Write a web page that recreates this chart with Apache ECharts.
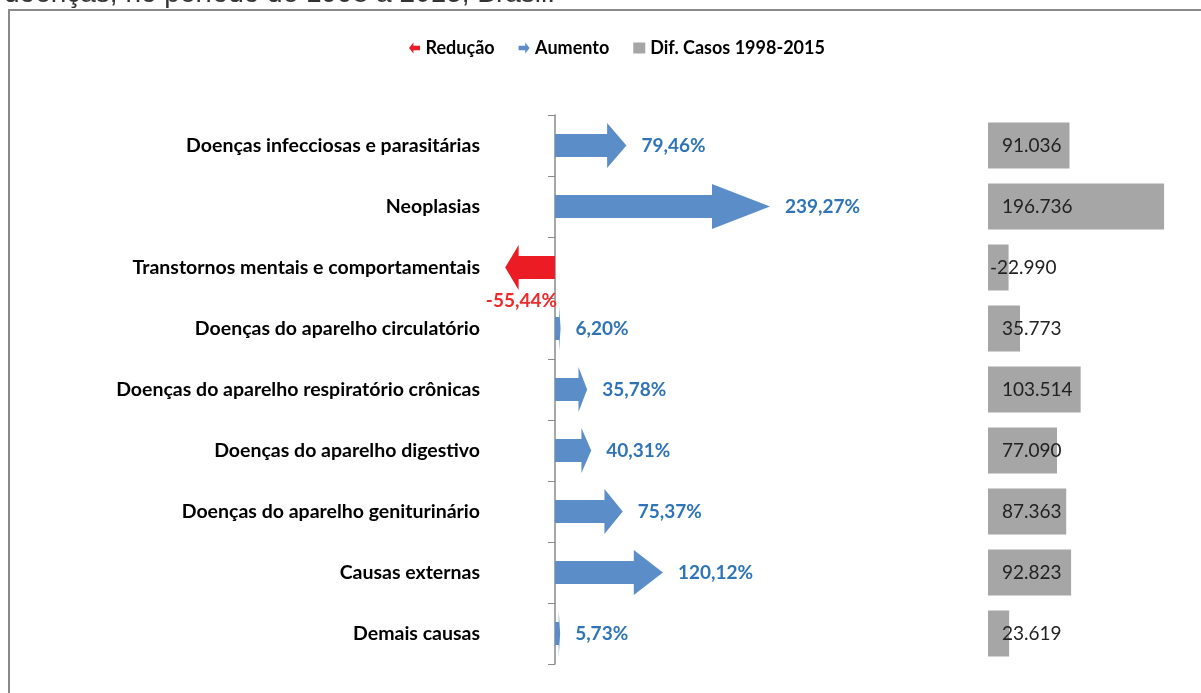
<!DOCTYPE html>
<html>
<head>
<meta charset="utf-8">
<script src="https://cdn.jsdelivr.net/npm/echarts@6/dist/echarts.min.js"></script>
<style>
  html, body { margin: 0; padding: 0; background: #fff; }
  #chart { width: 1201px; height: 693px; }
</style>
</head>
<body>
<div id="chart"></div>
<script>
// dados
const categorias = [
  'Doenças infecciosas e parasitárias',
  'Neoplasias',
  'Transtornos mentais e comportamentais',
  'Doenças do aparelho circulatório',
  'Doenças do aparelho respiratório crônicas',
  'Doenças do aparelho digestivo',
  'Doenças do aparelho geniturinário',
  'Causas externas',
  'Demais causas'
];
const variacao = [79.46, 239.27, -55.44, 6.20, 35.78, 40.31, 75.37, 120.12, 5.73];
const difCasos = [91036, 196736, -22990, 35773, 103514, 77090, 87363, 92823, 23619];

const azul = '#5b8dc9';
const azulTexto = '#2f74b7';
const vermelho = '#ec1c24';
const vermelhoTexto = '#ee2b2b';

function fmtPct(v) {
  return v.toFixed(2).replace('.', ',') + '%';
}
function fmtNum(v) {
  const s = String(Math.abs(v)).replace(/\B(?=(\d{3})+(?!\d))/g, '.');
  return (v < 0 ? '-' : '') + s;
}

function desenhaSeta(params, api) {
  const idx = api.value(1);
  const v = api.value(0);
  const base = api.coord([0, idx]);
  const tip = api.coord([v, idx]);
  const cy = base[1];
  const len = tip[0] - base[0];
  const neck = tip[0] - len * 0.27;
  const hs = 11.5, hh = 22.5;
  const pts = [
    [base[0], cy - hs], [neck, cy - hs], [neck, cy - hh], [tip[0], cy],
    [neck, cy + hh], [neck, cy + hs], [base[0], cy + hs]
  ];
  const neg = v < 0;
  return {
    type: 'group',
    children: [
      { type: 'polygon', shape: { points: pts }, style: { fill: neg ? vermelho : azul } },
      {
        type: 'text',
        x: neg ? base[0] + 2 : tip[0] + 15,
        y: neg ? cy + 33 : cy,
        style: {
          text: fmtPct(v),
          fill: neg ? vermelhoTexto : azulTexto,
          font: 'bold 19px Lato',
          align: neg ? 'right' : 'left',
          verticalAlign: 'middle'
        }
      }
    ]
  };
}

const reducao = [], aumento = [];
variacao.forEach((v, i) => (v < 0 ? reducao : aumento).push([v, i]));

const chart = echarts.init(document.getElementById('chart'));
const option = {
  animation: false,
  graphic: [
    {
      type: 'text', left: 4, top: -20,
      style: { text: 'doenças, no período de 1998 a 2015, Brasil.', font: '28px "Liberation Sans"', fill: '#333' }
    },
    {
      type: 'rect', shape: { x: 9, y: 10, width: 1400, height: 900 },
      style: { fill: 'none', stroke: '#8a8a8a', lineWidth: 2 }, silent: true
    }
  ],
  legend: {
    left: 404, top: 34,
    itemWidth: 12, itemHeight: 11, itemGap: 24,
    textStyle: { fontFamily: 'Lato', fontWeight: 'bold', fontSize: 18, color: '#000' },
    data: [
      { name: 'Redução', icon: 'path://M0,5 L4,0 L4,3 L10,3 L10,7 L4,7 L4,10 Z', itemStyle: { color: vermelho } },
      { name: 'Aumento', icon: 'path://M0,3 L6,3 L6,0 L10,5 L6,10 L6,7 L0,7 Z', itemStyle: { color: azul } },
      { name: 'Dif. Casos 1998-2015', icon: 'rect', itemStyle: { color: '#a6a6a6' } }
    ]
  },
  grid: [
    { left: 555, width: 269.6, top: 115, height: 549 },
    { left: 988, width: 179, top: 115, height: 549 }
  ],
  xAxis: [
    { type: 'value', gridIndex: 0, min: 0, max: 300, show: false },
    { type: 'value', gridIndex: 1, min: 0, max: 200000, show: false }
  ],
  yAxis: [
    {
      type: 'category', gridIndex: 0, inverse: true, data: categorias,
      axisLine: { show: true, lineStyle: { color: '#8a8a8a', width: 1.5 } },
      axisTick: { show: true, inside: false, length: 7, lineStyle: { color: '#8a8a8a', width: 1 } },
      axisLabel: { margin: 75, color: '#000', fontFamily: 'Lato', fontWeight: 'bold', fontSize: 19.5 }
    },
    { type: 'category', gridIndex: 1, inverse: true, data: categorias, show: false }
  ],
  series: [
    { name: 'Redução', type: 'custom', xAxisIndex: 0, yAxisIndex: 0, clip: false, renderItem: desenhaSeta, encode: { x: 0, y: 1 }, data: reducao, itemStyle: { color: vermelho } },
    { name: 'Aumento', type: 'custom', xAxisIndex: 0, yAxisIndex: 0, clip: false, renderItem: desenhaSeta, encode: { x: 0, y: 1 }, data: aumento, itemStyle: { color: azul } },
    {
      name: 'Dif. Casos 1998-2015', type: 'bar', xAxisIndex: 1, yAxisIndex: 1, barWidth: 46,
      itemStyle: { color: '#a6a6a6' },
      data: difCasos.map(v => ({
        value: Math.abs(v),
        label: { distance: v < 0 ? 2 : 14 }
      })),
      label: {
        show: true, position: 'insideLeft', color: '#222',
        fontFamily: 'Lato', fontSize: 19,
        formatter: p => fmtNum(difCasos[p.dataIndex])
      }
    }
  ]
};
chart.setOption(option);
</script>
</body>
</html>
